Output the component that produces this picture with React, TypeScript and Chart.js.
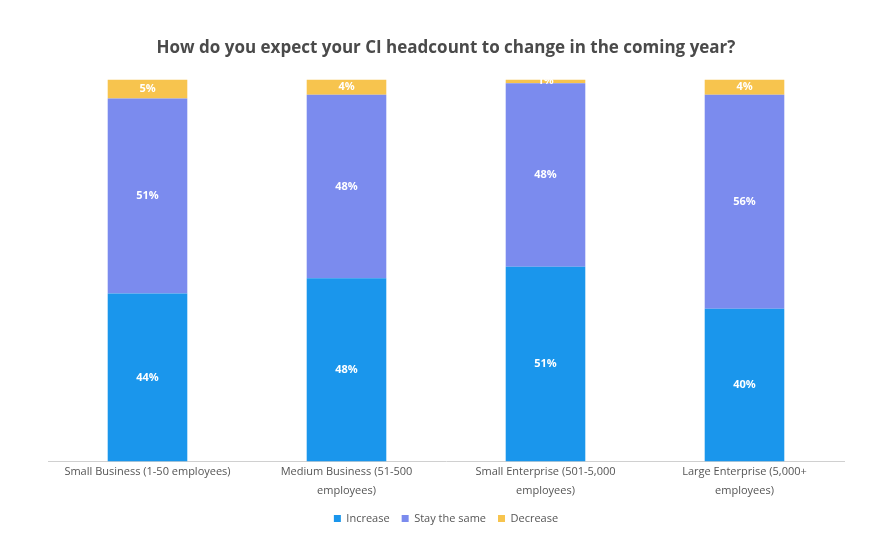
import React, { useEffect, useRef } from "react";
import { Chart, registerables } from "chart.js";

Chart.register(...registerables);

const categories: (string | string[])[] = [
  "Small Business (1-50 employees)",
  ["Medium Business (51-500", "employees)"],
  ["Small Enterprise (501-5,000", "employees)"],
  ["Large Enterprise (5,000+", "employees)"],
];
const increase = [44, 48, 51, 40];
const staySame = [51, 48, 48, 56];
const decrease = [5, 4, 1, 4];

const labelPlugin = {
  id: "barLabels",
  afterDatasetsDraw(chart: any) {
    const ctx = chart.ctx;
    ctx.save();
    ctx.fillStyle = "#ffffff";
    ctx.font = "bold 11px 'Open Sans', Arial, sans-serif";
    ctx.textAlign = "center";
    ctx.textBaseline = "middle";
    chart.data.datasets.forEach((ds: any, i: number) => {
      const meta = chart.getDatasetMeta(i);
      meta.data.forEach((bar: any, j: number) => {
        const v = ds.data[j];
        const y = (bar.y + bar.base) / 2;
        ctx.fillText(v + "%", bar.x, y);
      });
    });
    ctx.restore();
  },
};

export default function App() {
  const ref = useRef<HTMLCanvasElement>(null);
  useEffect(() => {
    document.body.style.margin = "0";
    const chart = new Chart(ref.current!, {
      type: "bar",
      data: {
        labels: categories,
        datasets: [
          { label: "Increase", data: increase, backgroundColor: "#1A96EC", barPercentage: 0.8, categoryPercentage: 0.5 },
          { label: "Stay the same", data: staySame, backgroundColor: "#7B8BEE", barPercentage: 0.8, categoryPercentage: 0.5 },
          { label: "Decrease", data: decrease, backgroundColor: "#F7C44E", barPercentage: 0.8, categoryPercentage: 0.5 },
        ],
      },
      options: {
        animation: false,
        responsive: false,
        layout: { padding: { left: 48, right: 49, top: 8, bottom: 9 } },
        plugins: {
          title: {
            display: true,
            text: "How do you expect your CI headcount to change in the coming year?",
            color: "#4a4a4a",
            font: { size: 17, weight: "bold", family: "'Open Sans', Arial, sans-serif" },
            padding: { top: 30, bottom: 21 },
          },
          legend: {
            position: "bottom",
            labels: {
              boxWidth: 7,
              boxHeight: 7,
              color: "#555555",
              font: { size: 11, family: "'Open Sans', Arial, sans-serif" },
              padding: 12,
            },
          },
          tooltip: { enabled: false },
        },
        scales: {
          x: {
            stacked: true,
            grid: { display: false, drawTicks: false },
            border: { display: true, color: "#d0d0d0" },
            ticks: {
              color: "#555555",
              font: { size: 11, family: "'Open Sans', Arial, sans-serif", lineHeight: 1.7 },
              maxRotation: 0,
              autoSkip: false,
              padding: 1,
            },
          },
          y: {
            stacked: true,
            display: false,
            min: 0,
            max: 100,
          },
        },
      },
      plugins: [labelPlugin],
    });
    return () => chart.destroy();
  }, []);
  return (
    <div style={{ width: 893, height: 543 }}>
      <canvas ref={ref} width={893} height={543} style={{ display: "block" }} />
    </div>
  );
}
